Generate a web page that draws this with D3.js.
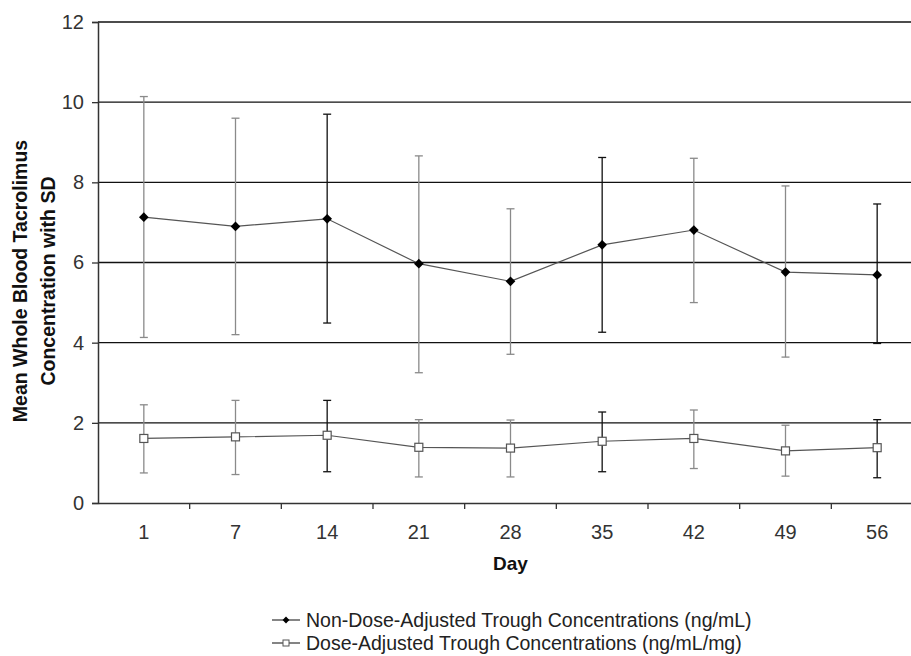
<!DOCTYPE html>
<html>
<head>
<meta charset="utf-8">
<script src="https://cdn.jsdelivr.net/npm/d3@7"></script>
<style>
  body { margin: 0; background: #fff; }
  svg { font-family: "Liberation Sans", Arial, sans-serif; }
</style>
</head>
<body>
<div id="chart"></div>
<script>
const days = ['1', '7', '14', '21', '28', '35', '42', '49', '56']
const yTicks = [0, 2, 4, 6, 8, 10, 12]

// non-dose-adjusted trough (ng/mL)
const rawMean = [7.13, 6.90, 7.09, 5.97, 5.53, 6.44, 6.81, 5.76, 5.69]
const rawHigh = [10.14, 9.60, 9.70, 8.66, 7.34, 8.62, 8.60, 7.91, 7.46]
const rawLow = [4.13, 4.20, 4.49, 3.25, 3.71, 4.26, 5.00, 3.64, 3.98]

// dose-adjusted trough (ng/mL/mg)
const adjMean = [1.61, 1.65, 1.69, 1.39, 1.37, 1.54, 1.61, 1.30, 1.38]
const adjHigh = [2.45, 2.56, 2.56, 2.08, 2.07, 2.27, 2.32, 1.94, 2.08]
const adjLow = [0.75, 0.71, 0.78, 0.65, 0.65, 0.78, 0.86, 0.67, 0.63]

const legendLabels = [
  'Non-Dose-Adjusted Trough Concentrations (ng/mL)',
  'Dose-Adjusted Trough Concentrations (ng/mL/mg)'
]

const width = 911, height = 656
const margin = { top: 22, left: 98, bottom: 153 }
const plotBottom = height - margin.bottom
const font = '"Liberation Sans", Arial, sans-serif'

const svg = d3.select('#chart').append('svg')
  .attr('width', width)
  .attr('height', height)

const x = d3.scaleBand().domain(days).range([margin.left, 923])
const y = d3.scaleLinear().domain([0, 12]).range([plotBottom, margin.top])

// horizontal grid
svg.append('g')
  .selectAll('line')
  .data(yTicks.filter(d => d > 0))
  .enter().append('line')
  .attr('x1', margin.left).attr('x2', width)
  .attr('y1', d => y(d)).attr('y2', d => y(d))
  .attr('stroke', '#111').attr('stroke-width', 1.3)

// y axis
const yAxis = svg.append('g')
  .attr('transform', `translate(${margin.left},0)`)
  .call(d3.axisLeft(y).tickValues(yTicks).tickSize(6).tickPadding(8))
yAxis.attr('font-size', null).attr('font-family', null)
yAxis.select('.domain').attr('stroke', '#333').attr('stroke-width', 1.5)
yAxis.selectAll('.tick line').attr('stroke', '#333').attr('stroke-width', 1.3)
yAxis.selectAll('text').style('font-size', '20px').attr('fill', '#333')
  .style('font-family', font)

// x axis, ticks sit between the categories
const xAxis = svg.append('g')
  .attr('transform', `translate(0,${plotBottom})`)
  .call(d3.axisBottom(x).tickSize(0).tickPadding(22))
xAxis.attr('font-size', null).attr('font-family', null)
xAxis.select('.domain').attr('stroke', '#333').attr('stroke-width', 1.5)
xAxis.selectAll('text').style('font-size', '20px').attr('fill', '#333')
  .style('font-family', font)
xAxis.selectAll('.sep')
  .data(days.slice(1))
  .enter().append('line')
  .attr('class', 'sep')
  .attr('x1', d => x(d)).attr('x2', d => x(d))
  .attr('y1', 0).attr('y2', 6)
  .attr('stroke', '#333').attr('stroke-width', 1.3)

// axis titles
svg.append('text')
  .attr('x', x('28') + x.bandwidth() / 2)
  .attr('y', 570)
  .attr('text-anchor', 'middle')
  .style('font-size', '19px').attr('font-weight', 'bold').attr('fill', '#111')
  .text('Day')

const yTitle = svg.append('text')
  .attr('transform', 'translate(0,281) rotate(-90)')
  .attr('text-anchor', 'middle')
  .style('font-size', '19.5px').attr('font-weight', 'bold').attr('fill', '#111')
yTitle.append('tspan').attr('x', 0).attr('y', 27).text('Mean Whole Blood Tacrolimus')
yTitle.append('tspan').attr('x', 0).attr('y', 55).text('Concentration with SD')

const cx = d => x(d) + x.bandwidth() / 2
// the scanned bars come out darker on every third day
const barColor = i => (i % 3 === 2 ? '#111' : '#8a8a8a')

function drawSeries(mean, hi, lo, marker) {
  const g = svg.append('g')
  const rows = days.map((d, i) => ({ day: d, m: mean[i], hi: hi[i], lo: lo[i], i }))

  const bars = g.selectAll('.err').data(rows).enter().append('g')
    .attr('stroke', d => barColor(d.i)).attr('stroke-width', 1.3)
  bars.append('line')
    .attr('x1', d => cx(d.day)).attr('x2', d => cx(d.day))
    .attr('y1', d => y(d.hi)).attr('y2', d => y(d.lo))
  bars.append('line')
    .attr('x1', d => cx(d.day) - 4).attr('x2', d => cx(d.day) + 4)
    .attr('y1', d => y(d.hi)).attr('y2', d => y(d.hi))
  bars.append('line')
    .attr('x1', d => cx(d.day) - 4).attr('x2', d => cx(d.day) + 4)
    .attr('y1', d => y(d.lo)).attr('y2', d => y(d.lo))

  const line = d3.line().x(d => cx(d.day)).y(d => y(d.m))
  g.append('path').datum(rows)
    .attr('d', line)
    .attr('fill', 'none').attr('stroke', '#555').attr('stroke-width', 1.2)

  if (marker === 'diamond') {
    g.selectAll('.pt').data(rows).enter().append('path')
      .attr('d', d3.symbol(d3.symbolDiamond2, 60))
      .attr('transform', d => `translate(${cx(d.day)},${y(d.m)})`)
      .attr('fill', '#000')
  } else {
    g.selectAll('.pt').data(rows).enter().append('rect')
      .attr('x', d => cx(d.day) - 4).attr('y', d => y(d.m) - 4)
      .attr('width', 8).attr('height', 8)
      .attr('fill', '#fff').attr('stroke', '#555').attr('stroke-width', 1.2)
  }
}

drawSeries(rawMean, rawHigh, rawLow, 'diamond')
drawSeries(adjMean, adjHigh, adjLow, 'square')

// legend
const legend = svg.append('g').attr('transform', 'translate(272,620)')
legendLabels.forEach((label, i) => {
  const row = legend.append('g').attr('transform', `translate(0,${i * 23})`)
  row.append('line').attr('x1', 0).attr('x2', 28).attr('y1', 0).attr('y2', 0)
    .attr('stroke', '#333').attr('stroke-width', 1.2)
  if (i === 0) {
    row.append('path').attr('d', d3.symbol(d3.symbolDiamond2, 30))
      .attr('transform', 'translate(14,0)').attr('fill', '#000')
  } else {
    row.append('rect').attr('x', 11).attr('y', -3).attr('width', 6).attr('height', 6)
      .attr('fill', '#fff').attr('stroke', '#555')
  }
  row.append('text').attr('x', 34).attr('y', 7)
    .style('font-size', '19.5px').attr('fill', '#222')
    .text(label)
})
</script>
</body>
</html>
